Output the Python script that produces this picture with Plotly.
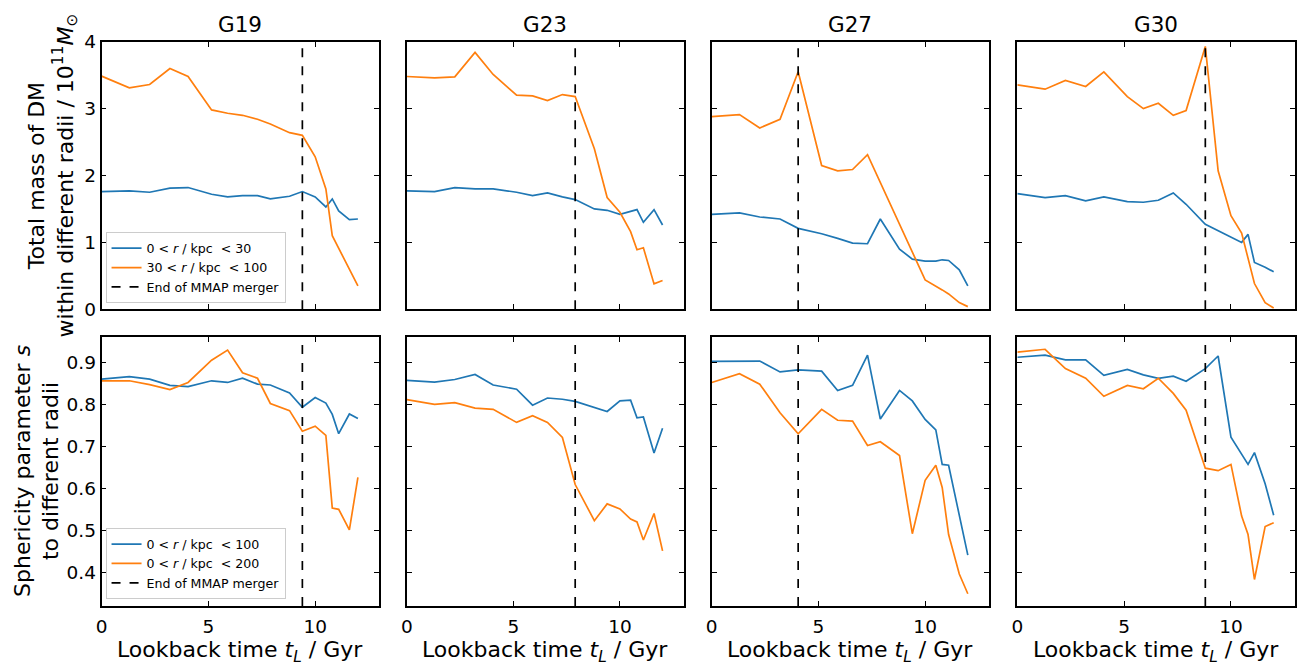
import plotly.graph_objects as go

# Snapshot lookback times (Gyr)
t_lookback = [0, 1.3, 2.25, 3.2, 4.05, 5.15, 5.9, 6.6, 7.3, 7.9, 8.8, 9.4, 10.0, 10.5, 10.8, 11.1, 11.6, 12.0]

halos = ["G19", "G23", "G27", "G30"]
merger_end = [9.4, 7.9, 4.05, 8.8]

# Total DM mass (1e11 Msun) in two radial shells
mass_inner_g19 = [1.76, 1.77, 1.75, 1.81, 1.82, 1.72, 1.68, 1.70, 1.70, 1.65, 1.69, 1.76, 1.68, 1.53, 1.65, 1.47, 1.34, 1.35]
mass_outer_g19 = [3.485, 3.31, 3.36, 3.60, 3.48, 2.98, 2.93, 2.90, 2.84, 2.77, 2.64, 2.60, 2.28, 1.80, 1.10, None, None, 0.35]
mass_inner_g23 = [1.77, 1.76, 1.82, 1.80, 1.80, 1.75, 1.70, 1.74, 1.68, 1.64, 1.50, 1.48, 1.42, None, 1.49, 1.30, 1.49, 1.26]
mass_outer_g23 = [3.48, 3.46, 3.475, 3.84, 3.51, 3.20, 3.19, 3.12, 3.21, 3.18, 2.40, 1.67, 1.45, 1.16, 0.89, 0.92, 0.38, 0.43]
mass_inner_g27 = [1.42, 1.44, 1.38, 1.35, 1.21, 1.13, 1.06, 0.99, 0.98, 1.35, 0.90, 0.75, 0.72, 0.72, 0.74, 0.73, 0.59, 0.35]
mass_outer_g27 = [2.88, 2.91, 2.71, 2.84, 3.55, 2.15, 2.07, 2.09, 2.31, None, None, None, 0.44, None, 0.29, 0.23, 0.10, 0.04]
mass_inner_g30 = [1.73, 1.67, 1.70, 1.62, 1.68, 1.61, 1.60, 1.63, 1.74, 1.57, 1.27, None, None, 1.00, 1.12, 0.70, 0.63, 0.56]
mass_outer_g30 = [3.355, 3.29, 3.42, 3.33, 3.55, 3.18, 3.00, 3.08, 2.90, 2.97, 3.93, 2.07, 1.40, 1.14, None, 0.385, 0.10, 0.02]

# Sphericity parameter s within two radii
s100_g19 = [0.860, 0.866, 0.860, 0.845, 0.842, 0.856, 0.852, 0.862, 0.848, 0.846, 0.827, 0.793, 0.816, 0.803, 0.776, 0.730, 0.777, 0.766]
s200_g19 = [0.856, 0.856, 0.847, 0.835, 0.852, 0.905, 0.929, 0.875, 0.862, 0.802, 0.785, 0.736, 0.748, 0.726, 0.553, 0.550, 0.501, 0.626]
s100_g23 = [0.857, 0.853, 0.859, 0.871, 0.846, 0.836, 0.798, 0.815, 0.812, 0.807, None, 0.783, 0.808, 0.810, 0.768, 0.770, 0.684, 0.743]
s200_g23 = [0.811, 0.800, 0.804, 0.791, 0.788, 0.757, 0.773, 0.757, 0.721, 0.609, 0.523, 0.563, 0.551, 0.527, 0.520, 0.477, 0.540, 0.451]
s100_g27 = [0.902, 0.903, 0.903, 0.877, 0.882, 0.879, 0.833, 0.845, 0.917, 0.765, 0.833, 0.808, 0.764, 0.739, 0.657, 0.655, None, 0.441]
s200_g27 = [0.852, 0.873, 0.848, 0.780, 0.730, 0.788, 0.762, 0.760, 0.702, 0.711, 0.678, 0.492, 0.619, 0.655, 0.602, 0.490, 0.396, 0.349]
s100_g30 = [0.912, 0.917, 0.906, 0.906, 0.869, 0.883, 0.870, 0.862, 0.867, 0.855, 0.885, 0.915, 0.722, None, 0.657, 0.685, 0.611, 0.536]
s200_g30 = [0.924, 0.931, 0.885, 0.862, 0.819, 0.845, 0.837, 0.862, 0.826, 0.786, 0.648, 0.642, 0.657, 0.534, 0.490, 0.383, 0.509, 0.518]

mass_inner = [mass_inner_g19, mass_inner_g23, mass_inner_g27, mass_inner_g30]
mass_outer = [mass_outer_g19, mass_outer_g23, mass_outer_g27, mass_outer_g30]
s_inner = [s100_g19, s100_g23, s100_g27, s100_g30]
s_outer = [s200_g19, s200_g23, s200_g27, s200_g30]

BLUE = "#1f77b4"
ORANGE = "#ff7f0e"
FONT = "DejaVu Sans"
W, H = 1304, 667

x_range = [0, 13]
mass_range = [0, 4]
s_range = [0.32, 0.96]

# panel edges in pixels
col_px = [(96, 375), (402.7, 681), (709, 987.7), (1016, 1295)]
top_px = (31.7, 308)
bot_px = (336.7, 614.3)


def xdom(c):
    return [col_px[c][0] / W, col_px[c][1] / W]


def ydom(rowpx):
    return [1 - rowpx[1] / H, 1 - rowpx[0] / H]


fig = go.Figure()

axis_common = dict(
    showline=True, linecolor="black", linewidth=1.7, mirror="allticks",
    ticks="inside", ticklen=5, tickwidth=1.3, tickcolor="black",
    showgrid=False, zeroline=False,
    tickfont=dict(family=FONT, size=18.5, color="black"),
)

legend_labels_mass = ["0 < <i>r</i> / kpc  < 30", "30 < <i>r</i> / kpc  < 100"]
legend_labels_s = ["0 < <i>r</i> / kpc  < 100", "0 < <i>r</i> / kpc  < 200"]

for row in range(2):
    for c in range(4):
        idx = row * 4 + c + 1
        xa = "x" if idx == 1 else f"x{idx}"
        ya = "y" if idx == 1 else f"y{idx}"
        if row == 0:
            ys = [mass_inner[c], mass_outer[c]]
            yr = mass_range
            labels = legend_labels_mass
            leg = "legend"
        else:
            ys = [s_inner[c], s_outer[c]]
            yr = s_range
            labels = legend_labels_s
            leg = "legend2"
        show = c == 0
        for yv, col, lab in zip(ys, [BLUE, ORANGE], labels):
            fig.add_trace(go.Scatter(
                x=t_lookback, y=yv, mode="lines", connectgaps=True,
                line=dict(color=col, width=1.7), name=lab,
                showlegend=show, legend=leg, xaxis=xa, yaxis=ya,
            ))
        fig.add_trace(go.Scatter(
            x=[merger_end[c], merger_end[c]], y=yr, mode="lines",
            line=dict(color="black", width=1.7, dash="dash"),
            name="End of MMAP merger", showlegend=show, legend=leg,
            xaxis=xa, yaxis=ya,
        ))

        xkey = "xaxis" if idx == 1 else f"xaxis{idx}"
        ykey = "yaxis" if idx == 1 else f"yaxis{idx}"
        xcfg = dict(axis_common, domain=xdom(c), range=x_range,
                    tickvals=[0, 5, 10], anchor=ya,
                    showticklabels=(row == 1), ticklabelstandoff=3)
        if row == 0:
            ycfg = dict(axis_common, domain=ydom(top_px), range=mass_range,
                        tickvals=[0, 1, 2, 3, 4], anchor=xa,
                        showticklabels=(c == 0))
        else:
            ycfg = dict(axis_common, domain=ydom(bot_px), range=s_range,
                        tickvals=[0.4, 0.5, 0.6, 0.7, 0.8, 0.9],
                        ticktext=["0.4", "0.5", "0.6", "0.7", "0.8", "0.9"],
                        anchor=xa, showticklabels=(c == 0))
        fig.layout[xkey] = xcfg
        fig.layout[ykey] = ycfg

annotations = []
for c, name in enumerate(halos):
    xc = (col_px[c][0] + col_px[c][1]) / 2 / W
    annotations.append(dict(
        text=name, x=xc, y=1 - 14 / H,
        xref="paper", yref="paper", showarrow=False, xanchor="center", yanchor="middle",
        font=dict(family=FONT, size=21.5, color="black"),
    ))
    annotations.append(dict(
        text="Lookback time <i>t<sub>L</sub></i> / Gyr", x=xc, y=1 - 644 / H,
        xref="paper", yref="paper", showarrow=False, xanchor="center", yanchor="top",
        font=dict(family=FONT, size=22, color="black"),
    ))
annotations.append(dict(
    text="Total mass of DM<br>within different radii / 10<sup>11</sup><i>M</i><sub>⊙</sub>",
    x=47 / W, y=1 - 170 / H, xref="paper", yref="paper", showarrow=False,
    textangle=-90, xanchor="center", yanchor="middle",
    font=dict(family=FONT, size=22, color="black"),
))
annotations.append(dict(
    text="Sphericity parameter <i>s</i><br>to different radii",
    x=31 / W, y=1 - 475 / H, xref="paper", yref="paper", showarrow=False,
    textangle=-90, xanchor="center", yanchor="middle",
    font=dict(family=FONT, size=22, color="black"),
))

legend_common = dict(
    bgcolor="rgba(255,255,255,0.85)", bordercolor="#cccccc", borderwidth=1,
    font=dict(family=FONT, size=12.6, color="black"),
    xanchor="left", yanchor="bottom", itemwidth=30, tracegroupgap=0,
)

fig.update_layout(
    width=W, height=H,
    margin=dict(l=0, r=0, t=0, b=0),
    paper_bgcolor="white", plot_bgcolor="white",
    annotations=annotations,
    legend=dict(legend_common, x=100 / W, y=1 - 302 / H),
    legend2=dict(legend_common, x=100 / W, y=1 - 607.5 / H),
    font=dict(family=FONT, color="black"),
)

fig.write_html("out.html")
